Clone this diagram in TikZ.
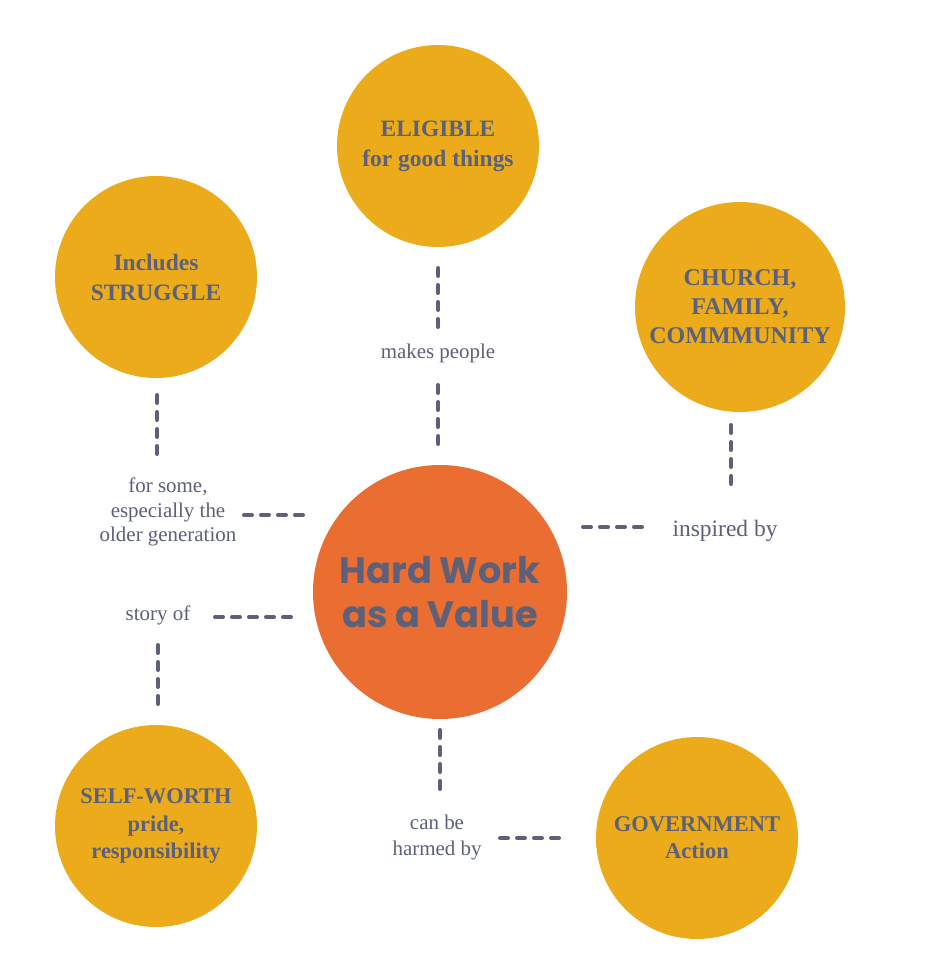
\documentclass[tikz,border=0pt]{standalone}
\usepackage{fontspec}
\setmainfont{Liberation Serif}
\newfontfamily\titlefont{Poppins}
\definecolor{gold}{HTML}{EBAB1B}
\definecolor{orng}{HTML}{EA6D32}
\definecolor{ink}{HTML}{5C6078}
\begin{document}
\begin{tikzpicture}[x=0.75pt,y=-0.75pt,
  goldball/.style={circle,fill=gold,inner sep=0pt,text=ink,font=\bfseries\fontsize{17.6}{22.5}\selectfont,align=center},
  lbl/.style={text=ink,font=\fontsize{15.7}{18.6}\selectfont,align=center,inner sep=0pt},
  dashline/.style={draw=ink,line width=3pt,line cap=round,dash pattern=on 6pt off 6.75pt}]
\useasboundingbox[fill=white] (0,0) rectangle (945,973);
\node[goldball,minimum size=202*0.75pt] (elig) at (438,146) {ELIGIBLE\\for good things};
\node[goldball,minimum size=202*0.75pt] (strug) at (156,277) {Includes\\STRUGGLE};
\node[goldball,minimum size=210*0.75pt,font=\bfseries\fontsize{18}{21.8}\selectfont] (church) at (740,307) {CHURCH,\\FAMILY,\\COMMMUNITY};
\node[circle,fill=orng,minimum size=254*0.75pt,inner sep=0pt,text=ink,align=center,font=\titlefont\bfseries\fontsize{27.5}{33}\selectfont] (hard) at (440,592) {Hard Work\\as a Value};
\node[goldball,minimum size=202*0.75pt,font=\bfseries\fontsize{16.8}{20.3}\selectfont] (self) at (156,826) {SELF-WORTH\\pride,\\responsibility};
\node[goldball,minimum size=202*0.75pt,font=\bfseries\fontsize{16.9}{20.3}\selectfont] (gov) at (697,838) {GOVERNMENT\\Action};

\node[lbl] (makes) at (438,353) {makes people};
\node[lbl] (some) at (168,512) {for some,\\especially the\\older generation};
\node[lbl,font=\fontsize{17.6}{20}\selectfont] (insp) at (725,531) {inspired by};
\node[lbl] (story) at (158,615) {story of};
\node[lbl,font=\fontsize{15.7}{19.5}\selectfont] (harm) at (437,837) {can be\\harmed by};

\coordinate (a1) at (438,268); \coordinate (a2) at (438,332);
\coordinate (b1) at (438,385); \coordinate (b2) at (438,447);
\coordinate (c1) at (157,395); \coordinate (c2) at (157,460);
\coordinate (d1) at (244,515); \coordinate (d2) at (307,515);
\coordinate (e1) at (731,425); \coordinate (e2) at (731,488);
\coordinate (f1) at (583,527); \coordinate (f2) at (647,527);
\coordinate (g1) at (215,617); \coordinate (g2) at (291,617);
\coordinate (h1) at (158,645); \coordinate (h2) at (158,708);
\coordinate (i1) at (440,730); \coordinate (i2) at (440,793);
\coordinate (j1) at (500,838); \coordinate (j2) at (563,838);
\foreach \p in {a,b,c,d,e,f,g,h,i,j}{
  \draw[dashline] (\p1) -- (\p2);
}
\end{tikzpicture}
\end{document}
